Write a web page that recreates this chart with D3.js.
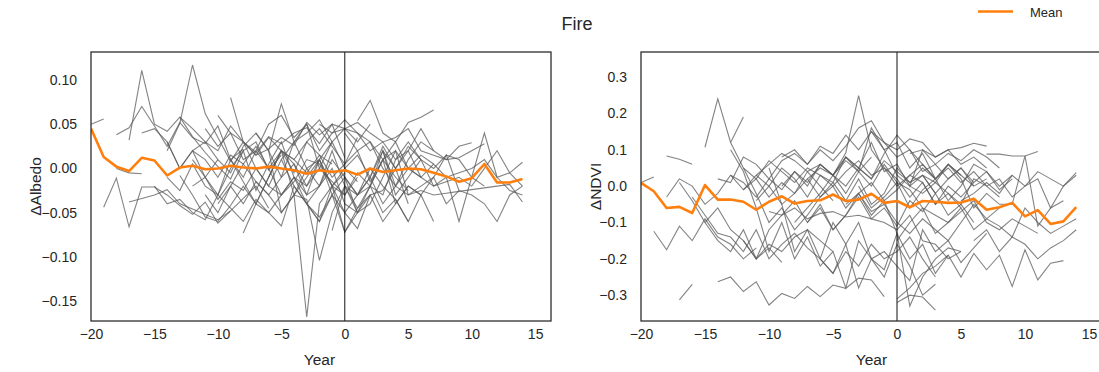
<!DOCTYPE html>
<html>
<head>
<meta charset="utf-8">
<script src="https://cdn.jsdelivr.net/npm/d3@7"></script>
<style>
body{margin:0;background:#fff;}
text{font-family:"Liberation Sans",Arial,sans-serif;fill:#262626;}
</style>
</head>
<body>
<svg id="chart" width="1099" height="372"></svg>
<script>
// each series: [startYear, v0, v1, ...] for consecutive years
var albedoSeries = [
	[-20, 0.050, 0.056],
	[-19, -0.044, -0.011, -0.066, -0.021, -0.021, -0.030, -0.042, -0.052, -0.038, -0.062, -0.048],
	[-18, 0.038, 0.046, 0.070, 0.048, 0.025, 0.052, 0.035, 0.028, 0.048, 0.010, 0.022],
	[-17, 0.032, 0.111, 0.050, 0.042, 0.058, 0.036, 0.018, 0.002, -0.012, 0.020, 0.030, -0.002, 0.015],
	[-18, 0.000, -0.005, -0.006],
	[-17, -0.038, -0.034, -0.030, -0.024, -0.040, -0.046, -0.052, -0.058, -0.048, -0.034, -0.020, -0.045],
	[-14, 0.020, 0.051, 0.117, 0.062, 0.035, 0.008, 0.030, 0.018, 0.036, 0.028, 0.040, 0.046, 0.028, 0.050, 0.012],
	[-15, -0.020, -0.040, -0.035, -0.050, -0.058, -0.030, -0.045, -0.060, -0.035, -0.050, -0.065, -0.020, -0.040, -0.055, -0.030, -0.072, -0.045, -0.020, -0.050, -0.035, -0.060],
	[-14, -0.010, -0.025, 0.005, -0.020, -0.030, 0.010, -0.015, -0.040, -0.010, 0.020, -0.030, -0.035, -0.104, -0.050, -0.020, -0.030, -0.010, -0.040, -0.020],
	[-13, 0.058, 0.045, 0.030, 0.020, 0.048, 0.030, 0.015, 0.022, 0.035, 0.026, 0.052, 0.038, 0.050, 0.045, 0.052, 0.040, 0.030, 0.035, 0.045, 0.020, 0.015, 0.010, 0.012, 0.020, 0.028],
	[-13, -0.008, -0.030, -0.055, -0.060, -0.042, -0.020, -0.040, -0.050, -0.030, -0.010, -0.040, -0.060, -0.030, -0.050, -0.068, -0.030],
	[-12, 0.020, 0.030, 0.010, -0.005, 0.025, 0.040, 0.020, -0.010, 0.005, -0.020, 0.010, 0.030, 0.000, -0.015],
	[-11, -0.030, -0.050, -0.020, -0.040, -0.015, -0.030, -0.050, -0.030, -0.168, -0.040, -0.020, -0.030, -0.010],
	[-12, 0.010, -0.010, -0.030, 0.000, 0.020, -0.025, 0.005, 0.030, -0.010, -0.030, 0.010, -0.020, -0.005],
	[-10, 0.060, 0.040, 0.010, 0.020, 0.050, 0.060, 0.035, 0.050, 0.020, 0.040, 0.045, 0.030, 0.050],
	[-9, 0.080, 0.030, 0.000, -0.020, 0.010, 0.030, 0.000, -0.020, 0.020, -0.020, -0.045, -0.030, -0.025, 0.000, -0.040],
	[-8, -0.073, -0.040, -0.010, 0.020, 0.005, -0.030, -0.020, 0.000, -0.040, -0.050],
	[-10, -0.040, -0.020, 0.005, -0.015, -0.030, -0.010, 0.030, 0.040, 0.055, 0.030],
	[-7, 0.040, 0.020, 0.073, 0.030, 0.050, 0.000, 0.030, 0.045, 0.040, 0.020, 0.030, 0.010, 0.020, 0.045, 0.020],
	[-6, 0.020, -0.050, -0.030, 0.000, 0.010, -0.030, -0.010, -0.050, -0.020, 0.020, -0.030, -0.010, 0.010],
	[-5, 0.010, -0.020, -0.040, -0.060, -0.020, -0.072, -0.050, -0.030, -0.060, -0.040, -0.020, -0.030, -0.060],
	[-3, -0.040, -0.020, 0.010, -0.010, -0.030, -0.020, 0.010, -0.040, -0.020, -0.030, -0.010, -0.040, -0.025, -0.030, -0.040, -0.060, -0.030, -0.020],
	[1, 0.054, 0.077, 0.040, 0.030, 0.052, 0.058, 0.066],
	[0, 0.040, 0.020, 0.030, 0.000, -0.020, 0.010, 0.030, 0.020, 0.010, 0.025, 0.029],
	[0, -0.010, -0.030, -0.010, 0.020, -0.020, 0.000, -0.010, -0.020, -0.010, -0.060, -0.010, 0.040, -0.010, -0.025, -0.030],
	[2, -0.020, -0.030, 0.010, 0.030, 0.010, -0.020, -0.015, -0.010, -0.020, 0.000, 0.020, -0.005, -0.020],
	[4, -0.020, -0.030, -0.025, -0.030, -0.028, -0.026, -0.024, -0.022, -0.020, -0.018, -0.038],
	[8, -0.010, -0.005, 0.000, 0.010, -0.010, -0.005, 0.007],
	[-2, 0.050, 0.040, 0.055, 0.040, 0.030, 0.010, 0.020, 0.000, -0.010, 0.005, -0.010],
	[-16, 0.040, 0.045, 0.030, 0.000, 0.020, -0.010, 0.010],
	[-4, -0.030, -0.010, 0.010, -0.020, -0.050, -0.030, 0.000, -0.020, -0.035, -0.060, -0.030],
	[-1, -0.070, -0.020, -0.050, -0.040, -0.010, 0.020, -0.030, -0.020, -0.010, 0.015, -0.025],
	[-14, 0.030, 0.000, 0.020, 0.010, -0.010, 0.015, 0.005, 0.025, 0.000, 0.020, 0.010, -0.005, 0.015, 0.005],
	[-12, -0.020, -0.010, -0.035, -0.015, -0.025, 0.000, -0.020, -0.030, -0.010, -0.020, 0.000, -0.015, -0.030, -0.005, -0.020, 0.010, -0.010, -0.025],
	[-11, 0.045, 0.025, 0.040, 0.030, 0.015, 0.035, 0.020, 0.010, 0.030, 0.045, 0.025, 0.005, 0.035],
	[-9, 0.010, -0.010, 0.020, 0.000, -0.030, -0.015, 0.010, 0.005, -0.020, 0.000, 0.015, -0.010, 0.025, 0.000, 0.020, -0.010],
	[-6, -0.010, 0.020, -0.005, 0.030, 0.015, -0.010, 0.005, 0.020, -0.015, 0.010, 0.030, 0.000, 0.015, 0.005],
	[3, 0.020, 0.000, 0.025, 0.010, 0.000, 0.015, 0.010, -0.010, -0.020]
];
var albedoMean = [0.045, 0.013, 0.002, -0.003, 0.012, 0.009, -0.008, 0.001, 0.003, -0.001, 0.000, 0.003, 0.001, 0.000, 0.002, 0.000, -0.002, -0.006, -0.002, -0.004, -0.002, -0.007, 0.000, -0.004, -0.002, 0.000, -0.001, -0.005, -0.009, -0.015, -0.011, 0.005, -0.016, -0.016, -0.012];

var ndviSeries = [
	[-20, 0.010, 0.025],
	[-19, -0.124, -0.175, -0.110, -0.150, -0.090, -0.140, -0.160, -0.200, -0.170],
	[-18, 0.083, 0.074, 0.060],
	[-17, -0.313, -0.270],
	[-15, 0.107, 0.240, 0.120, 0.050, -0.020, -0.100, -0.060, -0.120, -0.080, -0.030, 0.010, -0.040, 0.020, -0.050, -0.020, 0.050, 0.010, 0.030, -0.020],
	[-13, 0.120, 0.190],
	[-14, -0.263, -0.250, -0.290, -0.263, -0.327, -0.295, -0.309, -0.276, -0.304, -0.272, -0.281, -0.253, -0.258, -0.304],
	[-18, -0.030, 0.020, 0.000, -0.050, -0.020, 0.030, 0.010, -0.030, 0.020, -0.010, 0.040, 0.000, 0.060, 0.030, 0.070, 0.040, 0.080],
	[-17, 0.010, -0.040, -0.100, -0.060, -0.120, -0.150, -0.200, -0.160, -0.180, -0.140, -0.120, -0.150, -0.180],
	[-16, -0.030, -0.080, -0.130, -0.140, -0.180, -0.120, -0.200, -0.160, -0.130, -0.170, -0.200, -0.240, -0.180, -0.220, -0.160, -0.200, -0.180, -0.140, -0.200, -0.250],
	[-14, 0.020, 0.010, 0.080, 0.060, 0.020, 0.070, 0.090, 0.060, 0.100, 0.070, 0.110, 0.160, 0.180, 0.120, 0.100, 0.130, 0.120, 0.080, 0.100, 0.060, 0.080, 0.050],
	[-13, 0.100, 0.040, -0.060, -0.180, -0.100, -0.200, -0.140, -0.220, -0.180, -0.280, -0.150, -0.200, -0.250, -0.160, -0.220, -0.300, -0.270],
	[-12, -0.010, 0.030, 0.060, 0.090, 0.070, 0.040, 0.060, 0.030, 0.080, 0.050, 0.020, 0.090, 0.140, 0.100, 0.060, 0.020, -0.040, 0.000, 0.060, 0.040, 0.000, 0.030],
	[-12, -0.150, -0.200, -0.120, -0.080, -0.040, -0.100, -0.060, -0.120, -0.080, -0.020, -0.070, -0.050, -0.100, -0.130, -0.090, -0.120, -0.150, -0.100, -0.050, -0.090, -0.060],
	[-11, 0.030, 0.000, 0.050, 0.020, -0.030, 0.030, 0.010, 0.080, 0.040, 0.160, 0.100, 0.030, 0.000, -0.020, 0.010, -0.020, -0.050, 0.020, 0.000, -0.030],
	[-10, 0.050, -0.050, -0.180, -0.120, -0.200, -0.100, -0.160, -0.280, -0.200, -0.230, -0.130, -0.200, -0.160, -0.240, -0.190],
	[-10, -0.070, -0.080, -0.060, -0.090, -0.075, -0.070, -0.085, -0.080, -0.090, -0.100, -0.120, -0.080, -0.150, -0.160, -0.200, -0.180],
	[-9, 0.080, 0.100, 0.060, 0.110, 0.090, 0.140, 0.100, 0.150, 0.120, 0.080, 0.100, 0.040, 0.060, 0.020, 0.050, 0.000, 0.020],
	[-8, -0.100, -0.060, -0.020, 0.030, 0.092, 0.249, 0.100, 0.050, 0.020, -0.030, 0.010, -0.050, -0.020, -0.060],
	[-7, 0.020, 0.050, 0.030, -0.020, 0.040, 0.000, 0.060, 0.010, -0.060, -0.010, 0.020, 0.050, 0.010, 0.040, 0.000, 0.020, -0.030, 0.000, 0.040, 0.020, 0.000, 0.030],
	[-6, -0.200, -0.240, -0.160, -0.100, -0.200, -0.180, -0.220, -0.260, -0.120, -0.180, -0.150, -0.210, -0.170, -0.130],
	[-5, 0.030, 0.080, 0.050, 0.120, 0.040, 0.060, 0.000, 0.100, 0.060, 0.090, 0.070, 0.100, 0.080, 0.050],
	[-4, -0.050, -0.020, -0.080, -0.040, -0.130, -0.330, -0.250, -0.200, -0.170, -0.180],
	[-3, 0.000, -0.060, -0.030, 0.010, -0.010, -0.060, -0.080, -0.100, -0.070, -0.040, -0.100, -0.120, -0.090, -0.110, -0.130],
	[0, -0.320, -0.300, -0.305, -0.341],
	[0, -0.310, -0.280, -0.240, -0.220, -0.190, -0.250, -0.185, -0.230, -0.190, -0.276, -0.175, -0.258, -0.212, -0.205],
	[1, 0.090, 0.100, 0.080, 0.100, 0.106, 0.118, 0.110],
	[7, 0.088, 0.088, 0.083, 0.083, 0.095],
	[2, 0.030, 0.010, 0.060, 0.020, -0.060, -0.020, -0.050, -0.050, 0.083, -0.110, -0.060, -0.040],
	[5, -0.040, -0.020, 0.010, -0.020, 0.030, 0.000, 0.020, -0.060, 0.000, 0.037],
	[0, -0.150, -0.100, -0.060, -0.130, -0.100, -0.060, -0.120, -0.090, -0.110, -0.140, -0.060, -0.100, -0.130, -0.110, -0.090],
	[6, -0.150, -0.120, -0.180, -0.140, -0.160, -0.200, -0.170, -0.150, -0.120],
	[-15, -0.100, -0.150, -0.180, -0.120, -0.200, -0.170, -0.210],
	[-2, 0.150, 0.100, 0.120, 0.050, 0.090, 0.020, 0.060, 0.030, 0.000],
	[-12, 0.050, 0.020, 0.070, 0.040, 0.010, 0.050, 0.030, 0.000, 0.040, 0.070, 0.030, 0.050, 0.000, 0.030, 0.060, 0.020],
	[-11, -0.040, 0.000, -0.050, -0.020, 0.020, -0.030, 0.000, -0.060, -0.020, 0.010, -0.040, -0.010, 0.030, 0.010, -0.050, 0.000, -0.030, 0.010],
	[-9, 0.000, 0.040, 0.010, 0.060, 0.030, 0.000, 0.050, 0.020, 0.070, 0.040, 0.010, 0.050, 0.020, 0.060, 0.030],
	[-7, -0.100, -0.050, -0.120, -0.080, -0.030, -0.090, -0.060, -0.110, -0.040, -0.070, -0.020, -0.080, -0.050, -0.100],
	[-13, 0.030, -0.010, 0.020, -0.030, 0.010, -0.020, 0.040, 0.000, -0.040],
	[1, 0.000, 0.030, -0.020, 0.020, 0.050, 0.010, 0.040, -0.010, 0.020]
];
var ndviMean = [0.009, -0.014, -0.060, -0.057, -0.074, 0.003, -0.037, -0.037, -0.043, -0.065, -0.043, -0.028, -0.048, -0.041, -0.039, -0.023, -0.041, -0.037, -0.021, -0.046, -0.041, -0.058, -0.041, -0.043, -0.046, -0.045, -0.035, -0.065, -0.058, -0.046, -0.083, -0.066, -0.104, -0.097, -0.058];
var meanStart = -20;

var xTicks = [-20, -15, -10, -5, 0, 5, 10, 15];
var albedoTicks = [0.10, 0.05, 0.00, -0.05, -0.10, -0.15];
var ndviTicks = [0.3, 0.2, 0.1, 0.0, -0.1, -0.2, -0.3];

var svg = d3.select("#chart");

function toPoints(s)
{
	return s.slice(1).map((v,i)=>({year:s[0]+i, value:v}));
}

function panel(opt)
{
	var g = svg.append("g");
	var x = d3.scaleLinear().domain([-20, 16.25]).range([opt.left, opt.left+opt.width]);
	var y = d3.scaleLinear().domain(opt.ydomain).range([opt.bottom, opt.top]);

	var clipId = "clip"+opt.name;
	svg.append("clipPath").attr("id",clipId)
		.append("rect")
		.attr("x",opt.left).attr("y",opt.top)
		.attr("width",opt.width).attr("height",opt.bottom-opt.top);

	var line = d3.line().x(d=>x(d.year)).y(d=>y(d.value));
	var plot = g.append("g").attr("clip-path","url(#"+clipId+")");

	plot.selectAll(".series")
		.data(opt.series)
		.enter()
		.append("path")
		.attr("class","series")
		.attr("d",s=>line(toPoints(s)))
		.style("fill","none")
		.style("stroke","#5a5a5a")
		.style("stroke-opacity",0.75)
		.style("stroke-width",1.1);

	// vertical line at the event year
	plot.append("line")
		.attr("x1",x(0)).attr("x2",x(0))
		.attr("y1",opt.top).attr("y2",opt.bottom)
		.style("stroke","#111")
		.style("stroke-width",1);

	plot.append("path")
		.attr("d",line(toPoints([meanStart].concat(opt.mean))))
		.style("fill","none")
		.style("stroke","#ff7f0e")
		.style("stroke-width",2.6)
		.style("stroke-linejoin","round");

	// frame
	g.append("rect")
		.attr("x",opt.left).attr("y",opt.top)
		.attr("width",opt.width).attr("height",opt.bottom-opt.top)
		.style("fill","none")
		.style("stroke","#262626")
		.style("stroke-width",1.25);

	var xAxis = g.append("g")
		.attr("transform","translate(0,"+opt.bottom+")")
		.call(d3.axisBottom(x).tickValues(xTicks).tickSize(0).tickPadding(8)
			.tickFormat(d=>d<0 ? "\u2212"+Math.abs(d) : d));
	var yAxis = g.append("g")
		.attr("transform","translate("+opt.left+",0)")
		.call(d3.axisLeft(y).tickValues(opt.yticks).tickSize(0).tickPadding(14)
			.tickFormat(d=>{
				var s = d3.format(opt.fmt)(Math.abs(d));
				return d<-1e-9 ? "\u2212"+s : s;
			}));
	[xAxis,yAxis].forEach(a=>{
		a.select(".domain").remove();
		a.selectAll("text").style("font-size","14px").style("fill","#262626")
			.style("font-family","'Liberation Sans',Arial,sans-serif");
	});

	g.append("text")
		.attr("x",x(-2)).attr("y",opt.bottom+44)
		.attr("text-anchor","middle")
		.style("font-size","15.5px")
		.text("Year");
	g.append("text")
		.attr("transform","translate("+opt.ylabelX+","+((opt.top+opt.bottom)/2)+") rotate(-90)")
		.attr("text-anchor","middle")
		.style("font-size","15.5px")
		.text(opt.ylabel);
}

panel({name:"a", left:91, width:460, top:52, bottom:321, ydomain:[-0.1726,0.1317],
	series:albedoSeries, mean:albedoMean, yticks:albedoTicks, fmt:".2f", ylabel:"\u0394Albedo", ylabelX:41});
panel({name:"b", left:641, width:464, top:52, bottom:321, ydomain:[-0.371,0.369],
	series:ndviSeries, mean:ndviMean, yticks:ndviTicks, fmt:".1f", ylabel:"\u0394NDVI", ylabelX:601});

svg.append("text")
	.attr("x",577).attr("y",30)
	.attr("text-anchor","middle")
	.style("font-size","18px")
	.text("Fire");

// legend
svg.append("line")
	.attr("x1",978).attr("x2",1013).attr("y1",11.5).attr("y2",11.5)
	.style("stroke","#ff7f0e").style("stroke-width",2.6);
svg.append("text")
	.attr("x",1030).attr("y",16.5)
	.style("font-size","13px")
	.text("Mean");
</script>
</body>
</html>
